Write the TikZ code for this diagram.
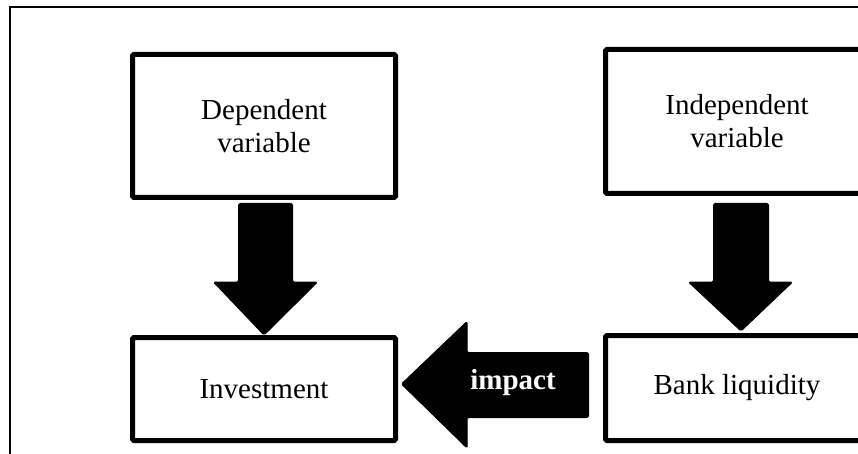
\documentclass[tikz,border=0pt]{standalone}
\usepackage{fontspec}
\setmainfont{Liberation Serif}
\begin{document}
\begin{tikzpicture}[x=1pt,y=-1pt,
  boxstyle/.style={draw=black,line width=5pt,rounded corners=1.5pt,inner sep=0pt,
    align=center,font=\fontsize{29}{33}\selectfont},
  blockarrow/.style={fill=black,draw=black,line width=1pt,rounded corners=1.5pt}]
\useasboundingbox (0,0) rectangle (858,454);
\begin{scope}
\clip (0,0) rectangle (858,454);
\draw[line width=2pt] (9.5,7.5) rectangle (900,500);
\node[boxstyle,minimum width=263pt,minimum height=143pt] (dep) at (264,126) {Dependent\\variable};
\node[boxstyle,minimum width=263pt,minimum height=144pt] (ind) at (737,121.5) {Independent\\variable};
\node[boxstyle,minimum width=263pt,minimum height=103pt] (inv) at (264,389) {Investment};
\node[boxstyle,minimum width=263pt,minimum height=105pt] (bank) at (737,388) {Bank liquidity};
% down arrow from dependent to investment
\fill[blockarrow] (238.5,203.5) -- (292.5,203.5) -- (292.5,282) -- (317.5,282)
  -- (dep.south |- inv.north) -- (213.5,282) -- (238.5,282) -- cycle;
% down arrow from independent to bank liquidity
\fill[blockarrow] (713.5,203.5) -- (768.5,203.5) -- (768.5,282) -- (792.5,282)
  -- (741,331) -- (688.5,282) -- (713.5,282) -- cycle;
% left arrow (impact)
\coordinate (tip) at (inv.east);
\fill[blockarrow] (588.5,352.5) -- (588.5,417.5) -- (467,417.5) -- (467,448)
  -- (401.5,384) -- (467,321.5) -- (467,352.5) -- cycle;
\node[text=white,font=\fontsize{29}{33}\selectfont\bfseries] (imp) at (513,383) {impact};
\end{scope}
\end{tikzpicture}
\end{document}
